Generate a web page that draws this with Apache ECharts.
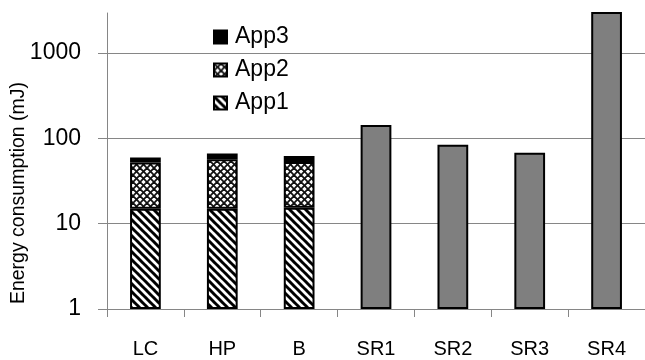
<!DOCTYPE html>
<html>
<head>
<meta charset="utf-8">
<script src="https://cdn.jsdelivr.net/npm/echarts@6/dist/echarts.min.js"></script>
<style>
html,body{margin:0;padding:0;background:#fff;}
#chart{width:645px;height:360px;}
</style>
</head>
<body>
<div id="chart"></div>
<script>
// ---- data ----
const categories = ['LC', 'HP', 'B', 'SR1', 'SR2', 'SR3', 'SR4'];
const app1 = [15, 15, 15.4, '-', '-', '-', '-'];
const app2 = [37, 42, 37.5, '-', '-', '-', '-'];
const app3 = [7.5, 9.5, 9.3, '-', '-', '-', '-'];
const srValues = ['-', '-', '-', 144, 84, 68, 3500];
const yTickValues = [1, 10, 100, 1000];
const yAxisTitle = 'Energy consumption (mJ)';

// ---- patterns ----
function stripePattern() {
  const s = 8;
  const c = document.createElement('canvas');
  c.width = s; c.height = s;
  const g = c.getContext('2d');
  g.fillStyle = '#fff'; g.fillRect(0, 0, s, s);
  g.strokeStyle = '#000'; g.lineWidth = 3;
  for (let k = -1; k <= 1; k++) {
    g.beginPath();
    g.moveTo(k * s - 1, -1);
    g.lineTo(k * s + s + 1, s + 1);
    g.stroke();
  }
  return c;
}
function crossPattern() {
  const s = 7;
  const c = document.createElement('canvas');
  c.width = s; c.height = s;
  const g = c.getContext('2d');
  g.fillStyle = '#fff'; g.fillRect(0, 0, s, s);
  g.strokeStyle = '#111'; g.lineWidth = 1.8;
  for (let k = -1; k <= 1; k++) {
    g.beginPath(); g.moveTo(k * s - 1, -1); g.lineTo(k * s + s + 1, s + 1); g.stroke();
    g.beginPath(); g.moveTo(k * s + s + 1, -1); g.lineTo(k * s - 1, s + 1); g.stroke();
  }
  return c;
}

const chart = echarts.init(document.getElementById('chart'), null, {renderer: 'canvas'});
const font = 'Liberation Sans';
const border = {borderColor: '#000', borderWidth: 2};

chart.setOption({
  animation: false,
  backgroundColor: '#fff',
  grid: {left: 107, top: 13, bottom: 51, right: -10},
  legend: {
    data: ['App3', 'App2', 'App1'],
    orient: 'vertical',
    left: 208,
    top: 20,
    icon: 'rect',
    itemWidth: 13,
    itemHeight: 13,
    itemGap: 9,
    textStyle: {fontFamily: font, fontSize: 23, color: '#000', lineHeight: 24, padding: [0, 0, 0, 3]}
  },
  xAxis: {
    type: 'category',
    data: categories,
    axisLine: {lineStyle: {color: '#868686', width: 1}},
    axisTick: {show: true, length: 8, alignWithLabel: false, lineStyle: {color: '#868686'}},
    axisLabel: {fontFamily: font, fontSize: 20, color: '#000', margin: 30}
  },
  yAxis: {
    type: 'log',
    logBase: 10,
    min: 1,
    max: 2950,
    axisLine: {show: true, lineStyle: {color: '#868686', width: 1}},
    axisTick: {show: true, length: 9, customValues: yTickValues, lineStyle: {color: '#868686'}},
    axisLabel: {fontFamily: font, fontSize: 23, color: '#000', margin: 26, customValues: yTickValues,
                formatter: function (v) { return String(Math.round(v)); }},
    splitLine: {show: true, lineStyle: {color: '#868686', width: 1}}
  },
  graphic: [{
    type: 'text',
    x: 19,
    y: 193,
    rotation: Math.PI / 2,
    style: {text: yAxisTitle, font: '19.5px "Liberation Sans"', fill: '#000', textAlign: 'center', textVerticalAlign: 'middle'}
  }],
  series: [
    {name: 'App1', type: 'bar', stack: 'a', barWidth: '40%', barGap: '-100%', data: app1,
     itemStyle: Object.assign({color: {image: stripePattern(), repeat: 'repeat'}}, border)},
    {name: 'App2', type: 'bar', stack: 'a', barWidth: '40%', data: app2,
     itemStyle: Object.assign({color: {image: crossPattern(), repeat: 'repeat'}}, border)},
    {name: 'App3', type: 'bar', stack: 'a', barWidth: '40%', data: app3,
     itemStyle: Object.assign({color: '#000'}, border)},
    {name: 'SR', type: 'bar', barWidth: '40%', barGap: '-100%', data: srValues,
     itemStyle: Object.assign({color: '#7f7f7f'}, border)}
  ]
});
</script>
</body>
</html>
